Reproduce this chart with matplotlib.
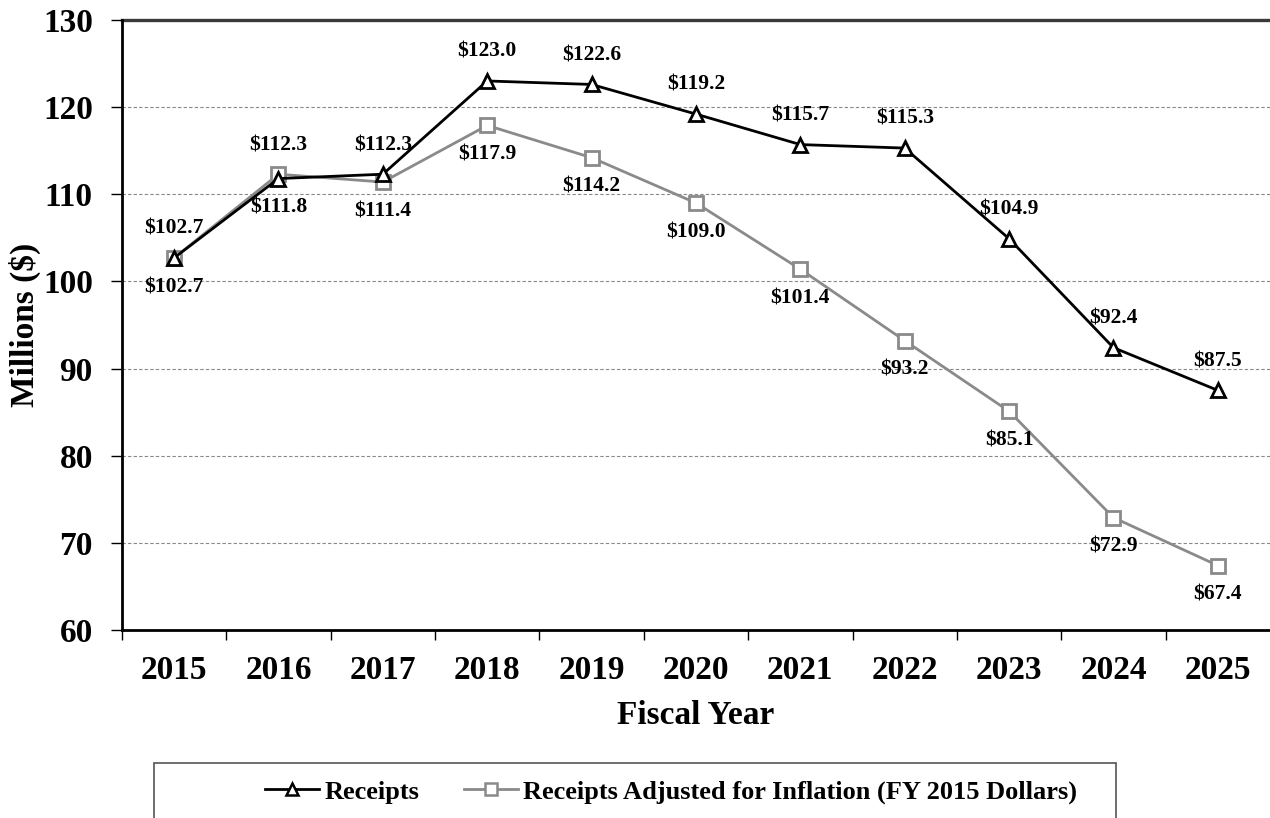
import matplotlib
matplotlib.use("Agg")
import matplotlib.pyplot as plt
from matplotlib.lines import Line2D
from matplotlib.patches import Rectangle

years = ["2015", "2016", "2017", "2018", "2019", "2020", "2021", "2022", "2023", "2024", "2025"]
receipts = [102.7, 111.8, 112.3, 123.0, 122.6, 119.2, 115.7, 115.3, 104.9, 92.4, 87.5]
adjusted = [102.7, 112.3, 111.4, 117.9, 114.2, 109.0, 101.4, 93.2, 85.1, 72.9, 67.4]

plt.rcParams['font.family'] = ['Liberation Serif', 'DejaVu Serif']
plt.rcParams['font.weight'] = 'bold'

black = '#000000'
gray = '#8a8a8a'

fig = plt.figure(figsize=(12.7, 8.18), dpi=100)
ax = fig.add_axes([0.096, 0.2298, 0.904, 0.7458])

x = list(range(len(years)))

# grid
for v in [70, 80, 90, 100, 110, 120]:
    ax.axhline(v, color='#888888', lw=0.8, ls=(0, (3, 2)), zorder=0)
ax.axhline(130, color='#3a3a3a', lw=2.4, zorder=0, clip_on=False)

ax.plot(x, adjusted, color=gray, lw=2, marker='s', ms=10, mfc='white',
        mec=gray, mew=2, zorder=3)
ax.plot(x, receipts, color=black, lw=2, marker='^', ms=10.5, mfc='white',
        mec=black, mew=2, zorder=4)

# data labels: higher series above, lower below
for i in x:
    r_up = receipts[i] >= adjusted[i]
    ax.annotate('$%.1f' % receipts[i], (i, receipts[i]), xytext=(0, 21 if r_up else -21),
                textcoords='offset points', ha='center', va='center', fontsize=15.5,
                fontweight='bold')
    ax.annotate('$%.1f' % adjusted[i], (i, adjusted[i]), xytext=(0, -21 if r_up else 21),
                textcoords='offset points', ha='center', va='center', fontsize=15.5,
                fontweight='bold')

ax.set_xlim(-0.5, len(years) - 0.5)
ax.set_ylim(60, 130)
ax.set_yticks(range(60, 131, 10))
ax.set_xticks(x)
ax.set_xticklabels(years)
ax.set_xticks([i - 0.5 for i in x], minor=True)
ax.tick_params(axis='x', which='major', length=0, pad=18, labelsize=24)
ax.tick_params(axis='x', which='minor', length=7, width=1, direction='out')
ax.tick_params(axis='y', length=8, width=1, direction='out', pad=13, labelsize=24)

for s in ['top', 'right']:
    ax.spines[s].set_visible(False)
ax.spines['left'].set_linewidth(2)
ax.spines['bottom'].set_linewidth(2)

ax.set_ylabel('Millions ($)', fontsize=24, fontweight='bold', labelpad=1)
ax.set_xlabel('Fiscal Year', fontsize=24, fontweight='bold', labelpad=10)

handles = [
    Line2D([], [], color=black, lw=2, marker='^', ms=8, mfc='white', mec=black, mew=1.8),
    Line2D([], [], color=gray, lw=2, marker='s', ms=8, mfc='white', mec=gray, mew=1.8),
]
leg = fig.legend(handles, ['Receipts', 'Receipts Adjusted for Inflation (FY 2015 Dollars)'],
                 loc='center', bbox_to_anchor=(671 / 1270, 1 - 792 / 818), ncol=2,
                 frameon=False, fontsize=19, handlelength=2.05, handletextpad=0.2,
                 columnspacing=1.7, borderpad=0)
for t in leg.get_texts():
    t.set_fontweight('bold')

# legend box
fig.patches.append(Rectangle((154 / 1270, -0.01), (1116 - 154) / 1270, 0.01 + 55 / 818,
                             transform=fig.transFigure, fill=False, edgecolor='#555555',
                             lw=1.2))

fig.savefig('out.png', dpi=100)
